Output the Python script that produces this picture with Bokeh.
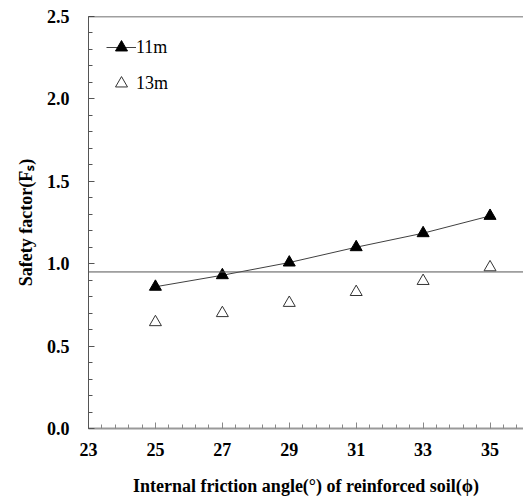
from bokeh.plotting import figure
from bokeh.models import (ColumnDataSource, FixedTicker, Legend, LegendItem, Span,
                          CustomJSTickFormatter)
from bokeh.embed import file_html
from bokeh.resources import INLINE

# ---- data ----
angles = [25, 27, 29, 31, 33, 35]
fs_11m = [0.86, 0.93, 1.007, 1.10, 1.185, 1.29]
fs_13m = [0.645, 0.70, 0.762, 0.828, 0.895, 0.978]
fs_limit = 0.95
x_ticks = [23, 25, 27, 29, 31, 33, 35]
y_ticks = [0.0, 0.5, 1.0, 1.5, 2.0, 2.5]
x_label = "Internal friction angle(\u00b0) of reinforced soil(\u03d5)"
y_label = "Safety factor(F\u209b)"
series_names = ["11m", "13m"]

FONT = "'Liberation Serif', 'Times New Roman', serif"

p = figure(width=523, height=499, output_backend="svg", toolbar_location=None,
           x_range=(23, 36), y_range=(0, 2.5),
           min_border_left=88, min_border_right=0, min_border_top=16, min_border_bottom=71)
p.outline_line_color = None
p.xgrid.visible = False
p.ygrid.visible = False
p.background_fill_color = "white"

# top border of plot area
p.add_layout(Span(location=2.5, dimension="width", line_color="#404040", line_width=1.5))

# reference line
p.add_layout(Span(location=fs_limit, dimension="width", line_color="#555555", line_width=1))

src11 = ColumnDataSource(dict(x=angles, y=fs_11m))
src13 = ColumnDataSource(dict(x=angles, y=fs_13m))

l11 = p.line("x", "y", source=src11, line_color="#404040", line_width=1)
m11 = p.scatter("x", "y", source=src11, marker="triangle", size=12,
                fill_color="black", line_color="black")
m13 = p.scatter("x", "y", source=src13, marker="triangle", size=12,
                fill_color="white", line_color="#333333", line_width=1)

legend = Legend(items=[LegendItem(label=series_names[0], renderers=[l11, m11]),
                       LegendItem(label=series_names[1], renderers=[m13])],
                location=(18, 330), orientation="vertical",
                background_fill_alpha=0, border_line_color=None,
                label_text_font=FONT, label_text_font_size="18px",
                label_text_color="black", glyph_width=30, glyph_height=30,
                label_height=30, spacing=6, padding=0, margin=0, label_standoff=0)
p.add_layout(legend, "center")

# axes
p.xaxis.ticker = FixedTicker(ticks=x_ticks,
                             minor_ticks=[round(23 + 0.4 * i, 2) for i in range(33)])
p.yaxis.ticker = FixedTicker(ticks=y_ticks,
                             minor_ticks=[round(0.1 * i, 2) for i in range(26)])
p.yaxis.formatter = CustomJSTickFormatter(code="return tick.toFixed(1);")

for ax in (p.xaxis[0], p.yaxis[0]):
    ax.major_tick_in = 6
    ax.major_tick_out = 0
    ax.minor_tick_in = 4
    ax.minor_tick_out = 0
    ax.major_label_text_font = FONT
    ax.major_label_text_font_style = "bold"
    ax.major_label_text_font_size = "18px"
    ax.major_label_text_color = "black"
    ax.axis_label_text_font = FONT
    ax.axis_label_text_font_style = "bold"
    ax.axis_label_text_font_size = "18px"
    ax.axis_label_text_color = "black"

p.xaxis.axis_line_color = "#999999"
p.xaxis.axis_line_width = 2
p.xaxis.major_tick_line_color = "#888888"
p.xaxis.minor_tick_line_color = "#888888"
p.xaxis.major_label_standoff = 14
p.xaxis.axis_label = x_label
p.xaxis.axis_label_standoff = 17

p.yaxis.axis_line_color = "#555555"
p.yaxis.axis_line_width = 1
p.yaxis.major_tick_line_color = "#555555"
p.yaxis.minor_tick_line_color = "#555555"
p.yaxis.major_label_standoff = 19
p.yaxis.axis_label = y_label
p.yaxis.axis_label_standoff = 8

open("out.html", "w").write(file_html(p, INLINE))
